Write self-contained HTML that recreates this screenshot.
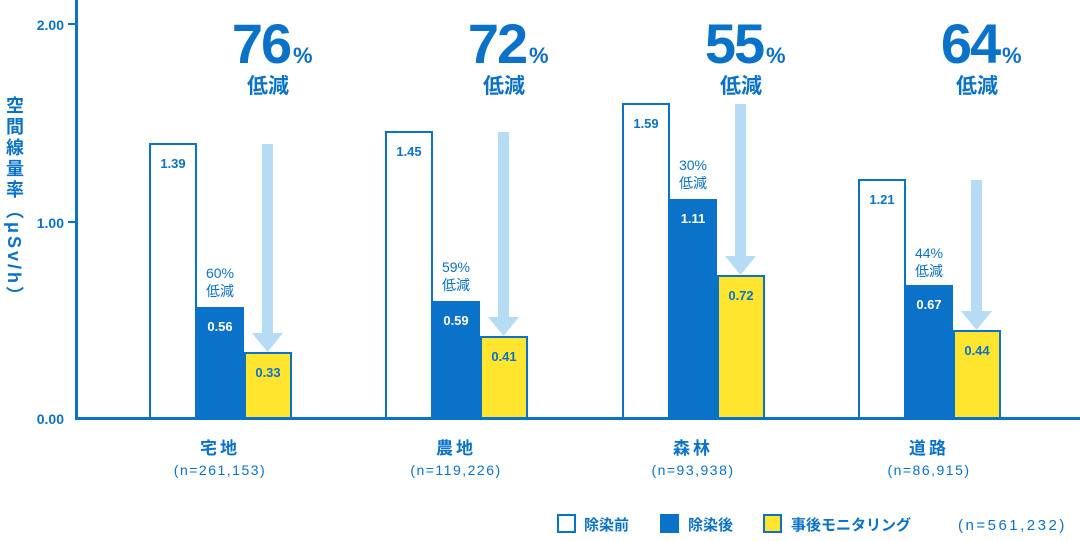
<!DOCTYPE html>
<html><head><meta charset="utf-8"><style>
body{margin:0;background:#fff;}
svg text{font-family:"Liberation Sans","Noto Sans CJK JP",sans-serif;}
</style></head><body>
<svg width="1080" height="536" viewBox="0 0 1080 536" xmlns="http://www.w3.org/2000/svg">
<g fill="#0a72c8">
<rect x="75" y="0" width="3" height="420"/>
<rect x="75" y="417" width="1005" height="3"/>
<rect x="68" y="23" width="8" height="2"/>
<rect x="68" y="221" width="8" height="2"/>
<text x="64" y="30" font-size="14" font-weight="bold" text-anchor="end">2.00</text>
<text x="64" y="228" font-size="14" font-weight="bold" text-anchor="end">1.00</text>
<text x="64" y="424" font-size="14" font-weight="bold" text-anchor="end">0.00</text>
</g>
<text x="14" y="96" font-size="18" font-weight="bold" fill="#0a72c8" style="writing-mode:vertical-rl;letter-spacing:3px">空間線量率（μSv/h）</text>

<rect x="150" y="144" width="46" height="274" fill="#fff" stroke="#0a72c8" stroke-width="2"/>
<rect x="196" y="307" width="48" height="111" fill="#0a72c8"/>
<rect x="245" y="353" width="46" height="65" fill="#ffe52e" stroke="#0a72c8" stroke-width="2"/>
<rect x="262" y="144" width="11" height="190" fill="#b6dcf5"/>
<polygon points="252,333 283,333 267.5,352" fill="#b6dcf5"/>
<rect x="386" y="132" width="46" height="286" fill="#fff" stroke="#0a72c8" stroke-width="2"/>
<rect x="432" y="301" width="48" height="117" fill="#0a72c8"/>
<rect x="481" y="337" width="46" height="81" fill="#ffe52e" stroke="#0a72c8" stroke-width="2"/>
<rect x="498" y="132" width="11" height="186" fill="#b6dcf5"/>
<polygon points="488,317 519,317 503.5,336" fill="#b6dcf5"/>
<rect x="623" y="104" width="46" height="314" fill="#fff" stroke="#0a72c8" stroke-width="2"/>
<rect x="669" y="199" width="48" height="219" fill="#0a72c8"/>
<rect x="718" y="276" width="46" height="142" fill="#ffe52e" stroke="#0a72c8" stroke-width="2"/>
<rect x="735" y="104" width="11" height="153" fill="#b6dcf5"/>
<polygon points="725,256 756,256 740.5,275" fill="#b6dcf5"/>
<rect x="859" y="180" width="46" height="238" fill="#fff" stroke="#0a72c8" stroke-width="2"/>
<rect x="905" y="285" width="48" height="133" fill="#0a72c8"/>
<rect x="954" y="331" width="46" height="87" fill="#ffe52e" stroke="#0a72c8" stroke-width="2"/>
<rect x="971" y="180" width="11" height="132" fill="#b6dcf5"/>
<polygon points="961,311 992,311 976.5,330" fill="#b6dcf5"/>

<g font-size="13" font-weight="bold" text-anchor="middle">
<text x="173" y="168" fill="#0a72c8">1.39</text>
<text x="220" y="331" fill="#fff">0.56</text>
<text x="268" y="377" fill="#0a72c8">0.33</text>
<text x="409" y="156" fill="#0a72c8">1.45</text>
<text x="456" y="325" fill="#fff">0.59</text>
<text x="504" y="361" fill="#0a72c8">0.41</text>
<text x="646" y="128" fill="#0a72c8">1.59</text>
<text x="693" y="223" fill="#fff">1.11</text>
<text x="741" y="300" fill="#0a72c8">0.72</text>
<text x="882" y="204" fill="#0a72c8">1.21</text>
<text x="929" y="309" fill="#fff">0.67</text>
<text x="977" y="355" fill="#0a72c8">0.44</text>
</g>
<g font-size="14" fill="#0a72c8" text-anchor="middle">
<text x="220" y="278">60%</text><text x="220" y="296">低減</text>
<text x="456" y="272">59%</text><text x="456" y="290">低減</text>
<text x="693" y="170">30%</text><text x="693" y="188">低減</text>
<text x="929" y="258">44%</text><text x="929" y="276">低減</text>
</g>
<g fill="#0a72c8" font-weight="bold">
<text x="261" y="63" font-size="56" text-anchor="middle" letter-spacing="-2">76</text>
<text x="293" y="63" font-size="22">%</text>
<text x="268" y="93" font-size="21" text-anchor="middle">低減</text>
<text x="497" y="63" font-size="56" text-anchor="middle" letter-spacing="-2">72</text>
<text x="529" y="63" font-size="22">%</text>
<text x="504" y="93" font-size="21" text-anchor="middle">低減</text>
<text x="734" y="63" font-size="56" text-anchor="middle" letter-spacing="-2">55</text>
<text x="766" y="63" font-size="22">%</text>
<text x="741" y="93" font-size="21" text-anchor="middle">低減</text>
<text x="970" y="63" font-size="56" text-anchor="middle" letter-spacing="-2">64</text>
<text x="1002" y="63" font-size="22">%</text>
<text x="977" y="93" font-size="21" text-anchor="middle">低減</text>
</g>
<g fill="#0a72c8" text-anchor="middle">
<text x="220" y="454" font-size="17" font-weight="bold" letter-spacing="3">宅地</text>
<text x="220" y="475" font-size="14" letter-spacing="1.5">(n=261,153)</text>
<text x="456" y="454" font-size="17" font-weight="bold" letter-spacing="3">農地</text>
<text x="456" y="475" font-size="14" letter-spacing="1.5">(n=119,226)</text>
<text x="693" y="454" font-size="17" font-weight="bold" letter-spacing="3">森林</text>
<text x="693" y="475" font-size="14" letter-spacing="1.5">(n=93,938)</text>
<text x="929" y="454" font-size="17" font-weight="bold" letter-spacing="3">道路</text>
<text x="929" y="475" font-size="14" letter-spacing="1.5">(n=86,915)</text>
</g>
<rect x="558" y="515" width="17" height="17" fill="#fff" stroke="#0a72c8" stroke-width="2"/>
<text x="584" y="530" font-size="15" font-weight="bold" fill="#0a72c8">除染前</text>
<rect x="660" y="514" width="19" height="19" fill="#0a72c8"/>
<text x="688" y="530" font-size="15" font-weight="bold" fill="#0a72c8">除染後</text>
<rect x="764" y="515" width="17" height="17" fill="#ffe52e" stroke="#0a72c8" stroke-width="2"/>
<text x="791" y="530" font-size="15" font-weight="bold" fill="#0a72c8">事後モニタリング</text>
<text x="958" y="530" font-size="15" fill="#0a72c8" letter-spacing="2.5">(n=561,232)</text>
</svg>
</body></html>
